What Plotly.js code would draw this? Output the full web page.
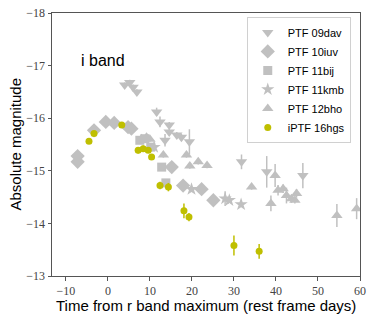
<!DOCTYPE html>
<html>
<head>
<meta charset="utf-8">
<script src="https://cdn.plot.ly/plotly-3.0.1.min.js"></script>
<style>body{margin:0;} #plot{width:374px;height:320px;}</style>
</head>
<body>
<div id="plot"></div>
<script>
// days from r max vs absolute magnitude
const davX = [4.0, 5.2, 6.0, 6.9, 11.6, 12.4, 14.6, 14.6, 13.6, 16.4, 17.5, 19.4, 31.8, 37.8, 46.4];
const davY = [-16.63, -16.68, -16.59, -16.50, -16.12, -15.93, -15.87, -15.74, -15.58, -15.68, -15.64, -15.55, -15.17, -14.98, -14.91];
const davErr = [0.05, 0.05, 0.05, 0.05, 0.08, 0.1, 0.06, 0.06, 0.12, 0.06, 0.06, 0.24, 0.14, 0.3, 0.24];

const iuvX = [-7.2, -7.2, -3.3, -0.5, 1.5, 4.8, 5.6, 15.2, 17.9, 22.3, 25.1];
const iuvY = [-15.28, -15.17, -15.77, -15.93, -15.91, -15.83, -15.80, -15.07, -14.72, -14.65, -14.44];

const bijX = [7.6, 8.8, 10.2, 12.8, 13.8];
const bijY = [-15.58, -15.61, -15.45, -15.07, -14.77];

const kmbX = [11.0, 19.9, 27.9, 28.9, 31.7];
const kmbY = [-15.45, -14.65, -14.47, -14.44, -14.36];
const kmbErr = [0.05, 0.05, 0.14, 0.05, 0.03];

const bhoX = [8.0, 9.2, 10.0, 13.2, 18.7, 19.5, 21.5, 23.6, 34.2, 38.8, 39.8, 40.5, 41.7, 42.5, 43.7, 44.5, 44.9, 54.5, 59.2];
const bhoY = [-15.61, -15.64, -15.60, -15.30, -15.30, -15.09, -15.17, -15.10, -14.69, -14.38, -14.91, -14.63, -14.66, -14.53, -14.47, -14.44, -14.57, -14.15, -14.28];
const bhoErr = [0.05, 0.05, 0.05, 0.05, 0.05, 0.05, 0.05, 0.05, 0.05, 0.15, 0.22, 0.1, 0.08, 0.15, 0.08, 0.06, 0.08, 0.22, 0.2];

const hgsX = [-4.5, -3.3, 3.3, 7.2, 8.4, 9.6, 10.4, 12.4, 14.4, 18.1, 19.3, 30.0, 36.0];
const hgsY = [-15.56, -15.71, -15.87, -15.39, -15.42, -15.39, -15.26, -14.72, -14.69, -14.24, -14.12, -13.58, -13.47];
const hgsErr = [0.03, 0.03, 0.04, 0.06, 0.06, 0.05, 0.05, 0.07, 0.08, 0.14, 0.08, 0.19, 0.14];

const gray = '#c0c0c0';
const olive = '#bfbf00';

function errBars(arr, col) {
    if (!arr) return {visible: false};
    return {type: 'data', array: arr, visible: true, color: col, thickness: 1.5, width: 0};
}

function pts(name, x, y, err, symbol, size, col) {
    return {
        x: x, y: y, name: name,
        type: 'scatter', mode: 'markers',
        marker: {symbol: symbol, size: size, color: col},
        error_y: errBars(err, col)
    };
}

var traces = [
    pts('PTF 09dav', davX, davY, davErr, 'triangle-down', 10, gray),
    pts('PTF 10iuv', iuvX, iuvY, null, 'diamond', 11, gray),
    pts('PTF 11bij', bijX, bijY, null, 'square', 9, gray),
    pts('PTF 11kmb', kmbX, kmbY, kmbErr, 'star', 10, gray),
    pts('PTF 12bho', bhoX, bhoY, bhoErr, 'triangle-up', 10, gray),
    pts('iPTF 16hgs', hgsX, hgsY, hgsErr, 'circle', 7, olive)
];

var tickFont = {family: 'Liberation Serif, serif', size: 12, color: '#444'};

var layout = {
    width: 374, height: 320,
    margin: {l: 52, r: 14, t: 13, b: 44},
    paper_bgcolor: 'white', plot_bgcolor: 'white',
    font: {family: 'Liberation Sans, sans-serif', color: '#000'},
    showlegend: true,
    xaxis: {
        range: [-13.3, 60],
        tickvals: [-10, 0, 10, 20, 30, 40, 50, 60],
        ticks: 'outside', ticklen: 3.5, tickcolor: '#555',
        showline: true, mirror: true, linecolor: '#555', linewidth: 1,
        showgrid: false, zeroline: false,
        tickfont: tickFont
    },
    yaxis: {
        range: [-13, -18],
        tickvals: [-18, -17, -16, -15, -14, -13],
        ticks: 'outside', ticklen: 3.5, tickcolor: '#555',
        showline: true, mirror: true, linecolor: '#555', linewidth: 1,
        showgrid: false, zeroline: false,
        tickfont: tickFont
    },
    legend: {
        x: 0.97, y: 0.985, xanchor: 'right', yanchor: 'top',
        bgcolor: 'white', bordercolor: '#d0d0d0', borderwidth: 1,
        font: {size: 11}, itemwidth: 30, tracegroupgap: 0
    },
    annotations: [
        {
            x: -6.8, y: -17.1, xref: 'x', yref: 'y',
            text: 'i band', showarrow: false, xanchor: 'left',
            font: {size: 16}
        },
        // axis titles placed by hand so they sit as close as in the original
        {
            x: 0.5, y: -0.112, xref: 'paper', yref: 'paper',
            text: 'Time from r band maximum (rest frame days)', showarrow: false,
            xanchor: 'center', yanchor: 'middle', font: {size: 15}
        },
        {
            x: -0.12, y: 0.5, xref: 'paper', yref: 'paper',
            text: 'Absolute magnitude', showarrow: false, textangle: -90,
            xanchor: 'center', yanchor: 'middle', font: {size: 15}
        }
    ]
};

Plotly.newPlot('plot', traces, layout, {displayModeBar: false});
</script>
</body>
</html>
